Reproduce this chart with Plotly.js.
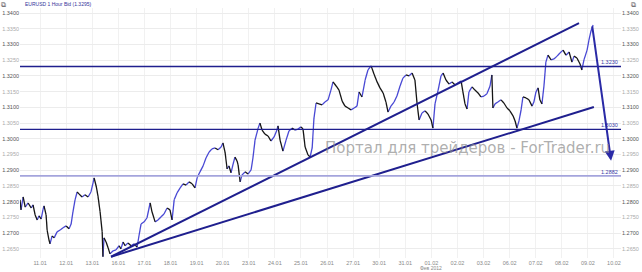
<!DOCTYPE html>
<html>
<head>
<meta charset="utf-8">
<script src="https://cdn.plot.ly/plotly-3.0.1.min.js"></script>
<style>html,body{margin:0;padding:0;background:#fff;}#chart{width:642px;height:272px;}</style>
</head>
<body>
<div id="chart"></div>
<script>
// Trading-day tick labels (position = trading-day index)
const days = ['11.01','12.01','13.01','16.01','17.01','18.01','19.01','20.01','23.01','24.01','25.01','26.01','27.01','30.01','31.01','01.02','02.02','03.02','06.02','07.02','08.02','09.02','10.02'];
const yTicks = ['1.2650','1.2700','1.2750','1.2800','1.2850','1.2900','1.2950','1.3000','1.3050','1.3100','1.3150','1.3200','1.3250','1.3300','1.3350','1.3400'];

// EURUSD hourly bid, time in trading days from 11.01 00:00
const t = [-0.77,-0.73,-0.65,-0.57,-0.46,-0.34,-0.27,-0.19,-0.11,-0.04,0.04,0.11,0.15,0.23,0.27,0.34,0.38,0.46,0.54,0.65,0.77,0.88,1.00,1.11,1.19,1.26,1.34,1.42,1.49,1.61,1.72,1.84,1.95,2.03,2.07,2.15,2.22,2.30,2.38,2.41,2.45,2.53,2.61,2.68,2.80,2.91,3.03,3.10,3.18,3.26,3.37,3.49,3.60,3.72,3.79,3.87,3.99,4.10,4.22,4.29,4.41,4.52,4.64,4.75,4.87,4.98,5.06,5.14,5.25,5.37,5.48,5.60,5.71,5.83,5.94,6.02,6.13,6.25,6.36,6.48,6.59,6.71,6.82,6.94,7.01,7.09,7.17,7.24,7.32,7.40,7.47,7.55,7.59,7.67,7.74,7.86,7.97,8.09,8.16,8.24,8.36,8.43,8.51,8.62,8.74,8.85,8.97,9.08,9.12,9.20,9.31,9.43,9.54,9.66,9.77,9.89,10.00,10.08,10.16,10.27,10.35,10.43,10.50,10.58,10.69,10.81,10.92,11.04,11.15,11.23,11.35,11.46,11.58,11.69,11.81,11.92,12.04,12.15,12.23,12.34,12.46,12.57,12.69,12.80,12.92,13.03,13.15,13.26,13.34,13.45,13.57,13.68,13.80,13.91,14.03,14.14,14.26,14.37,14.45,14.53,14.64,14.76,14.87,14.99,15.06,15.14,15.26,15.37,15.45,15.56,15.68,15.79,15.91,16.02,16.14,16.21,16.29,16.37,16.44,16.56,16.67,16.79,16.90,17.02,17.13,17.25,17.32,17.36,17.44,17.55,17.67,17.78,17.90,18.01,18.13,18.21,18.28,18.36,18.44,18.51,18.63,18.74,18.86,18.93,19.01,19.09,19.16,19.24,19.32,19.39,19.47,19.59,19.70,19.82,19.93,20.05,20.16,20.28,20.39,20.47,20.58,20.70,20.77,20.85,20.97,21.04,21.12,21.20];
const price = [1.2806,1.2774,1.2815,1.2783,1.2796,1.2780,1.2790,1.2758,1.2742,1.2755,1.2745,1.2774,1.2787,1.2758,1.2710,1.2679,1.2666,1.2691,1.2685,1.2704,1.2710,1.2717,1.2723,1.2714,1.2729,1.2768,1.2806,1.2831,1.2825,1.2815,1.2822,1.2815,1.2831,1.2860,1.2876,1.2850,1.2818,1.2768,1.2704,1.2625,1.2685,1.2672,1.2653,1.2634,1.2644,1.2647,1.2660,1.2650,1.2672,1.2660,1.2669,1.2660,1.2666,1.2656,1.2691,1.2729,1.2736,1.2749,1.2796,1.2768,1.2736,1.2742,1.2752,1.2761,1.2780,1.2774,1.2742,1.2806,1.2828,1.2844,1.2857,1.2853,1.2863,1.2857,1.2844,1.2876,1.2895,1.2914,1.2939,1.2958,1.2968,1.2971,1.2965,1.2974,1.2987,1.2958,1.2904,1.2914,1.2892,1.2920,1.2942,1.2930,1.2917,1.2863,1.2885,1.2895,1.2888,1.2901,1.2939,1.2996,1.3034,1.3050,1.3028,1.3015,1.3009,1.2993,1.3006,1.3028,1.3041,1.2996,1.2961,1.2996,1.3025,1.3034,1.3028,1.3031,1.3038,1.3031,1.2974,1.2949,1.2942,1.2971,1.3066,1.3114,1.3111,1.3108,1.3117,1.3124,1.3155,1.3181,1.3168,1.3155,1.3120,1.3104,1.3098,1.3092,1.3098,1.3104,1.3149,1.3133,1.3187,1.3219,1.3232,1.3206,1.3181,1.3162,1.3146,1.3117,1.3085,1.3104,1.3117,1.3136,1.3168,1.3193,1.3203,1.3200,1.3209,1.3187,1.3114,1.3060,1.3082,1.3089,1.3079,1.3060,1.3034,1.3111,1.3155,1.3200,1.3209,1.3187,1.3174,1.3181,1.3171,1.3178,1.3184,1.3149,1.3111,1.3095,1.3149,1.3165,1.3155,1.3146,1.3133,1.3136,1.3143,1.3168,1.3203,1.3098,1.3111,1.3117,1.3124,1.3114,1.3098,1.3089,1.3073,1.3057,1.3034,1.3057,1.3092,1.3133,1.3130,1.3124,1.3104,1.3117,1.3149,1.3162,1.3124,1.3111,1.3171,1.3244,1.3266,1.3251,1.3254,1.3263,1.3273,1.3282,1.3266,1.3276,1.3244,1.3263,1.3257,1.3238,1.3219,1.3251,1.3282,1.3314,1.3343,1.3362];

// Hand-drawn analysis objects
const trendAx = [2.72, 20.66], trendAy = [1.2625, 1.3368];
const trendBx = [2.72, 21.23], trendBy = [1.2625, 1.3101];
const arrowX = [21.16, 21.89], arrowY = [1.3362, 1.2930];
const levels = [1.3230, 1.3030, 1.2882];
const levelLabels = ['1.3230', '1.3030', '1.2882'];
const titleText = 'EURUSD 1 Hour Bid (1.3295)';
const watermark = 'Портал для трейдеров - ForTrader.ru';
const monthLabel = 'Фев 2012';

// split segments by direction
const upX = [], upY = [], dnX = [], dnY = [];
for (let i = 1; i < t.length; i++) {
  const X = price[i] >= price[i-1] ? upX : dnX;
  const Y = price[i] >= price[i-1] ? upY : dnY;
  X.push(t[i-1], t[i], null); Y.push(price[i-1], price[i], null);
}

const dayIdx = days.map((d, i) => i);
const yVals = yTicks.map(Number);
const yText = yTicks.map((s, i) => i % 2 === 1 ? '<span style="color:#555">' + s + '</span>' : '<span style="color:#aaa">' + s + '</span>');
const yRange = [1.2621, 1.3416];
const xRange = [-0.77, 22.27];
const navy = '#1f1f8e';

const traces = [
  {x: upX, y: upY, type: 'scatter', mode: 'lines', line: {color: '#4848d4', width: 1.3}, hoverinfo: 'skip'},
  {x: dnX, y: dnY, type: 'scatter', mode: 'lines', line: {color: '#151515', width: 1.3}, hoverinfo: 'skip'},
  {x: trendAx, y: trendAy, type: 'scatter', mode: 'lines', line: {color: navy, width: 2}},
  {x: trendBx, y: trendBy, type: 'scatter', mode: 'lines', line: {color: navy, width: 2}},
  {x: [xRange[0]], y: [yRange[0]], yaxis: 'y2', type: 'scatter', mode: 'markers', marker: {opacity: 0}, hoverinfo: 'skip'}
];

const shapes = levels.map((lv, i) => ({
  type: 'line', xref: 'paper', x0: 0, x1: 1, yref: 'y', y0: lv, y1: lv,
  line: {color: i === 2 ? '#a4a4dc' : navy, width: i === 2 ? 1.6 : 1.3}
}));

const annotations = levels.map((lv, i) => ({
  xref: 'paper', x: 0.998, xanchor: 'right', yref: 'y', y: lv, yanchor: 'bottom', yshift: -1,
  text: levelLabels[i], showarrow: false, font: {family: 'Arial, Liberation Sans', size: 5.5, color: '#3a3aa8'}
}));
annotations.push({
  x: arrowX[1], y: arrowY[1], ax: arrowX[0], ay: arrowY[0], xref: 'x', yref: 'y', axref: 'x', ayref: 'y',
  showarrow: true, arrowhead: 2, arrowsize: 1, arrowwidth: 2, arrowcolor: '#2a2aa6', text: ''
});
annotations.push({
  xref: 'paper', yref: 'paper', x: 0.745, y: 0.44, xanchor: 'center', yanchor: 'middle',
  text: watermark, showarrow: false, font: {family: 'DejaVu Sans', size: 15, color: 'rgba(140,140,140,0.7)'}
});
annotations.push({
  xref: 'x', x: 15, yref: 'paper', y: -0.056, xanchor: 'center', yanchor: 'bottom', borderpad: 0,
  text: monthLabel, showarrow: false, font: {family: 'Arial, Liberation Sans', size: 5, color: '#888'}
});
annotations.push({
  xref: 'paper', yref: 'paper', x: -0.027, y: 1.01, xanchor: 'center', yanchor: 'middle', borderpad: 0,
  text: '⧉', showarrow: false, font: {family: 'DejaVu Sans', size: 7, color: '#555'}
});
annotations.push({
  xref: 'paper', yref: 'paper', x: 1.02, y: 1.01, xanchor: 'center', yanchor: 'middle', borderpad: 0,
  text: '⧉', showarrow: false, font: {family: 'DejaVu Sans', size: 7, color: '#555'}
});

const tickFont = {family: 'Arial, Liberation Sans', size: 5.5, color: '#888'};
const layout = {
  width: 642, height: 272,
  margin: {l: 20, r: 21, t: 8, b: 14, pad: 0},
  paper_bgcolor: '#fff', plot_bgcolor: '#fff',
  showlegend: false,
  title: {text: titleText, x: 25/642, xanchor: 'left', y: 1 - 4/272, yanchor: 'middle',
          font: {family: 'Arial, Liberation Sans', size: 5, color: '#33339a'}},
  xaxis: {range: xRange, tickmode: 'array', tickvals: dayIdx, ticktext: days, tickfont: tickFont,
          showgrid: true, gridcolor: '#f1f1f1', gridwidth: 1, zeroline: false, showline: false, ticks: '', ticklabelstandoff: 0},
  yaxis: {range: yRange, tickmode: 'array', tickvals: yVals, ticktext: yText, tickfont: tickFont,
          showgrid: true, gridcolor: '#ececec', zeroline: false, showline: false, ticks: ''},
  yaxis2: {range: yRange, overlaying: 'y', side: 'right', tickmode: 'array', tickvals: yVals, ticktext: yText,
           tickfont: tickFont, showgrid: false, zeroline: false, showline: false, ticks: ''},
  shapes: shapes,
  annotations: annotations
};

Plotly.newPlot('chart', traces, layout, {staticPlot: true, displayModeBar: false});
</script>
</body>
</html>
